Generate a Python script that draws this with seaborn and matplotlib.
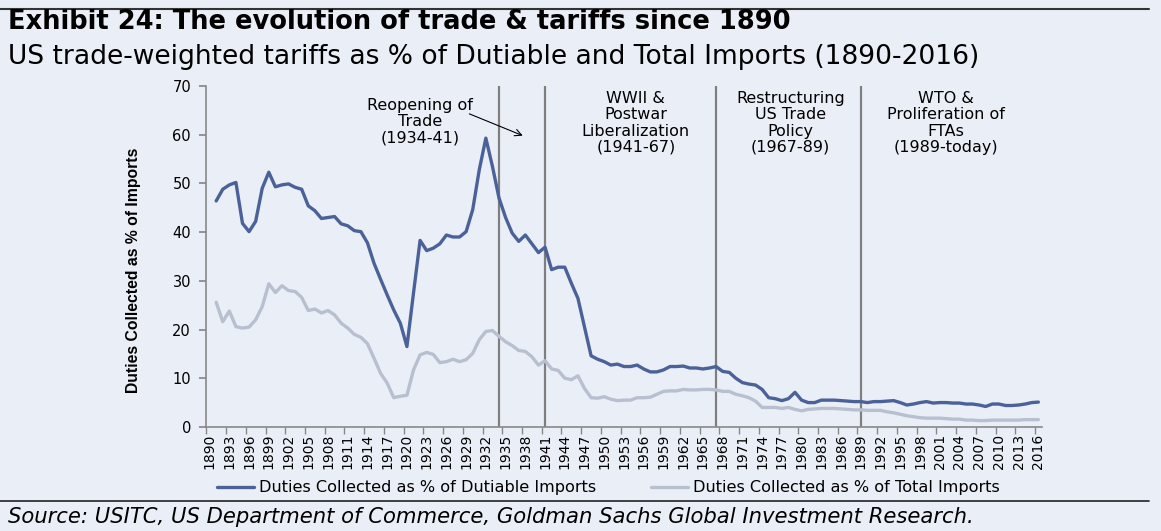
import numpy as np
import pandas as pd
import seaborn as sns
import matplotlib
matplotlib.use("Agg")
import matplotlib.pyplot as plt
from matplotlib.lines import Line2D

# data (1891-2016, 1890 category is empty)
years = list(range(1891, 2017))

dutiable = [
    46.4, 48.8, 49.7, 50.2, 41.8, 40.1, 42.2, 49.0, 52.3, 49.3,   # 1891-1900
    49.7, 49.9, 49.2, 48.8, 45.4, 44.4, 42.8, 43.0, 43.2, 41.7,   # 1901-1910
    41.3, 40.3, 40.1, 37.8, 33.6, 30.3, 27.1, 24.0, 21.3, 16.5,   # 1911-1920
    27.5, 38.3, 36.2, 36.7, 37.6, 39.4, 39.0, 39.0, 40.1, 44.6,   # 1921-1930
    52.8, 59.3, 53.5, 47.0, 43.0, 39.8, 38.1, 39.4, 37.6, 35.8,   # 1931-1940
    36.9, 32.3, 32.8, 32.8, 29.5, 26.4, 20.5, 14.6, 13.9, 13.4,   # 1941-1950
    12.7, 12.9, 12.4, 12.4, 12.7, 11.9, 11.3, 11.3, 11.7, 12.4,   # 1951-1960
    12.4, 12.5, 12.1, 12.1, 11.9, 12.1, 12.4, 11.4, 11.2, 10.0,   # 1961-1970
    9.1, 8.8, 8.6, 7.7, 6.0, 5.8, 5.4, 5.8, 7.1, 5.5,             # 1971-1980
    5.0, 5.0, 5.5, 5.5, 5.5, 5.4, 5.3, 5.2, 5.2, 5.0,             # 1981-1990
    5.2, 5.2, 5.3, 5.4, 5.0, 4.5, 4.7, 5.0, 5.2, 4.9,             # 1991-2000
    5.0, 5.0, 4.9, 4.9, 4.7, 4.7, 4.5, 4.2, 4.7, 4.7,             # 2001-2010
    4.4, 4.4, 4.5, 4.7, 5.0, 5.1,                                 # 2011-2016
]

total = [
    25.6, 21.6, 23.8, 20.6, 20.3, 20.5, 22.0, 24.7, 29.4, 27.6,   # 1891-1900
    29.0, 28.0, 27.8, 26.6, 23.9, 24.2, 23.4, 23.9, 23.0, 21.3,   # 1901-1910
    20.3, 19.0, 18.4, 17.1, 14.1, 11.0, 9.0, 6.0, 6.3, 6.5,       # 1911-1920
    11.7, 14.8, 15.3, 14.9, 13.2, 13.4, 13.9, 13.4, 13.8, 15.1,   # 1921-1930
    17.9, 19.6, 19.8, 18.6, 17.5, 16.7, 15.7, 15.5, 14.4, 12.7,   # 1931-1940
    13.6, 11.9, 11.6, 10.0, 9.7, 10.5, 7.9, 6.0, 5.9, 6.2,        # 1941-1950
    5.7, 5.4, 5.5, 5.5, 6.0, 6.0, 6.1, 6.7, 7.3, 7.4,             # 1951-1960
    7.4, 7.7, 7.6, 7.6, 7.7, 7.7, 7.6, 7.3, 7.3, 6.7,             # 1961-1970
    6.4, 6.0, 5.3, 4.0, 4.0, 4.0, 3.8, 4.0, 3.6, 3.3,             # 1971-1980
    3.6, 3.7, 3.8, 3.8, 3.8, 3.7, 3.6, 3.5, 3.5, 3.4,             # 1981-1990
    3.4, 3.4, 3.1, 2.9, 2.6, 2.3, 2.1, 1.9, 1.8, 1.8,             # 1991-2000
    1.8, 1.7, 1.6, 1.6, 1.4, 1.4, 1.3, 1.3, 1.4, 1.4,             # 2001-2010
    1.4, 1.4, 1.4, 1.5, 1.5, 1.5,                                 # 2011-2016
]

tick_years = list(range(1890, 2017, 3))
era_lines = [1934, 1941, 1967, 1989]
era_labels = [
    (1922.0, 62.7, "Reopening of\nTrade\n(1934-41)"),
    (1954.8, 62.4, "WWII &\nPostwar\nLiberalization\n(1941-67)"),
    (1978.3, 62.4, "Restructuring\nUS Trade\nPolicy\n(1967-89)"),
    (2001.9, 62.4, "WTO &\nProliferation of\nFTAs\n(1989-today)"),
]

dark = "#4a6298"
light = "#b8c0d0"
bg = "#eaeff7"

sns.set_theme(style="ticks")
plt.rcParams["font.family"] = ["DejaVu Sans"]
plt.rcParams["text.color"] = "black"
plt.rcParams["axes.labelcolor"] = "black"
plt.rcParams["xtick.labelcolor"] = "black"
plt.rcParams["ytick.labelcolor"] = "black"

df = pd.DataFrame({"year": years, "dutiable": dutiable, "total": total})

fig = plt.figure(figsize=(11.61, 5.31), dpi=100)
fig.patch.set_facecolor(bg)
ax = fig.add_axes([0.1777, 0.196, 0.7195, 0.642])
ax.set_facecolor(bg)

sns.lineplot(data=df, x="year", y="dutiable", color=dark, lw=2.4, ax=ax,
             label="Duties Collected as % of Dutiable Imports")
sns.lineplot(data=df, x="year", y="total", color=light, lw=2.4, ax=ax,
             label="Duties Collected as % of Total Imports")

for yr in era_lines:
    ax.axvline(yr, color="#7f7f7f", lw=1.6, zorder=1)

for x, y, txt in era_labels:
    ax.text(x, y, txt, ha="center", va="center", fontsize=11.5, color="black",
            linespacing=1.1)

ax.annotate("", xy=(1938.0, 59.6), xytext=(1929.1, 64.5),
            arrowprops=dict(arrowstyle="->", color="black", lw=0.8))

ax.set_xlim(1889.5, 2016.5)
ax.set_ylim(0, 70)
ax.set_yticks(range(0, 71, 10))
ax.set_xticks(tick_years)
ax.set_xticklabels([str(y) for y in tick_years], rotation=90, fontsize=10)
ax.set_xticks([y - 0.5 for y in tick_years], minor=True)
ax.tick_params(axis="x", which="major", length=0, pad=5, labelcolor="black")
ax.tick_params(axis="x", which="minor", length=5, color="#888888", width=1)
ax.tick_params(axis="y", length=5, color="#888888", labelsize=10.5, pad=6,
               labelcolor="black")
for side in ["top", "right"]:
    ax.spines[side].set_visible(False)
for side in ["left", "bottom"]:
    ax.spines[side].set_color("#888888")
    ax.spines[side].set_linewidth(1.2)

ax.set_xlabel("")
ax.set_ylabel("Duties Collected as % of Imports", fontsize=11.3,
              fontweight="bold", family=["Liberation Sans", "DejaVu Sans"])
ax.yaxis.set_label_coords(-0.078, 0.46)

ax.legend(loc="center", bbox_to_anchor=(0.524, 0.081),
          bbox_transform=fig.transFigure, ncol=2, frameon=False,
          fontsize=11.6, handlelength=2.3, columnspacing=3.4,
          handletextpad=0.3)

fig.add_artist(Line2D([0, 0.99], [0.983, 0.983], color="#333333", lw=1.5))
fig.add_artist(Line2D([0, 0.99], [0.0565, 0.0565], color="#222222", lw=1.2))

fig.text(0.007, 0.958, "Exhibit 24: The evolution of trade & tariffs since 1890",
         fontsize=18.5, fontweight="bold", va="center")
fig.text(0.007, 0.893,
         "US trade-weighted tariffs as % of Dutiable and Total Imports (1890-2016)",
         fontsize=19.1, va="center")
fig.text(0.007, 0.026,
         "Source: USITC, US Department of Commerce, Goldman Sachs Global Investment Research.",
         fontsize=15.2, style="italic", va="center")

fig.savefig("out.png", dpi=100, facecolor=bg)
